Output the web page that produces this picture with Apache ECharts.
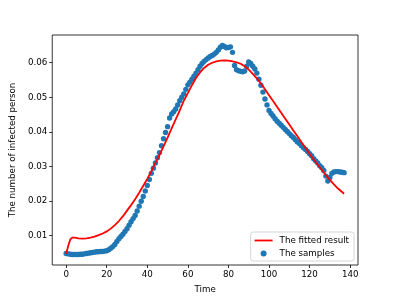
<!DOCTYPE html>
<html>
<head>
<meta charset="utf-8">
<script src="https://cdn.jsdelivr.net/npm/echarts@6/dist/echarts.min.js"></script>
<style>html,body{margin:0;padding:0;background:#fff;}#chart{width:399px;height:299px;}</style>
</head>
<body>
<div id="chart"></div>
<script>
// Samples: one value per day, day = index (0..137)
var sampleValues = [
0.0048,0.0047,0.0046,0.0045,0.0045,0.0045,0.0045,0.0046,0.0046,0.0047,
0.0048,0.0049,0.0050,0.0051,0.0052,0.0053,0.0053,0.0054,0.0054,0.0055,
0.0056,0.0059,0.0063,0.0068,0.0074,0.0083,0.0091,0.0097,0.0104,0.0112,
0.0120,0.0130,0.0140,0.0149,0.0158,0.0171,0.0185,0.0199,0.0213,0.0229,
0.0245,0.0262,0.0280,0.0295,0.0310,0.0325,0.0340,0.0360,0.0380,0.0398,
0.0415,0.0440,0.0452,0.0458,0.0466,0.0478,0.0490,0.0500,0.0510,0.0523,
0.0536,0.0544,0.0552,0.0561,0.0570,0.0580,0.0590,0.0598,0.0604,0.0609,
0.0614,0.0618,0.0621,0.0625,0.0630,0.0637,0.0645,0.0650,0.0647,0.0643,
0.0644,0.0646,0.0630,0.0592,0.0580,0.0577,0.0575,0.0574,0.0576,0.0590,
0.0602,0.0598,0.0590,0.0582,0.0570,0.0552,0.0535,0.0515,0.0495,0.0478,
0.0462,0.0453,0.0446,0.0438,0.0431,0.0425,0.0419,0.0413,0.0407,0.0401,
0.0395,0.0389,0.0384,0.0377,0.0371,0.0366,0.0360,0.0354,0.0349,0.0343,
0.0337,0.0331,0.0322,0.0316,0.0310,0.0302,0.0296,0.0288,0.0272,0.0258,
0.0268,0.0280,0.0284,0.0285,0.0285,0.0284,0.0283,0.0282
];
// Fitted curve
var fitTimes = [0,1,2,3,4,5,6,8,10,12,14,16,18,20,22,24,26,28,30,32,34,36,38,40,42,44,46,48,50,52,54,56,58,60,62,64,66,68,70,72,74,76,78,80,82,84,86,88,90,92,94,96,98,100,102,104,106,108,110,112,114,116,118,120,122,124,126,128,130,132,134,136,137];
var fitValues = [0.0047,0.0070,0.0088,0.0094,0.0094,0.0093,0.0092,0.0091,0.0092,0.0094,0.0097,0.0101,0.0106,0.0112,0.0120,0.0130,0.0142,0.0156,0.0172,0.0188,0.0205,0.0224,0.0244,0.0264,0.0286,0.0310,0.0333,0.0358,0.0383,0.0410,0.0436,0.0462,0.0490,0.0512,0.0535,0.0556,0.0572,0.0585,0.0594,0.0600,0.0604,0.0606,0.0607,0.0606,0.0604,0.0601,0.0597,0.0590,0.0580,0.0568,0.0555,0.0540,0.0523,0.0506,0.0489,0.0472,0.0455,0.0438,0.0421,0.0404,0.0387,0.0370,0.0353,0.0336,0.0320,0.0305,0.0290,0.0275,0.0261,0.0248,0.0236,0.0226,0.0221];
var xTicks = [0,20,40,60,80,100,120,140];
var yTicks = [0.01,0.02,0.03,0.04,0.05,0.06];
var seriesNames = ['The fitted result','The samples'];
var xTitle = 'Time';
var yTitle = 'The number of infected person';

var FONT = 'DejaVu Sans';
var chart = echarts.init(document.getElementById('chart'), null, {renderer:'canvas'});
chart.setOption({
  animation: false,
  backgroundColor: '#fff',
  textStyle: {fontFamily: FONT},
  grid: {left: 50, top: 35, right: 41, bottom: 33, show: true, borderColor: '#000', borderWidth: 0.8, backgroundColor: 'transparent'},
  xAxis: {
    type: 'value', min: -6.85, max: 143.85,
    name: xTitle, nameLocation: 'middle', nameGap: 20,
    nameTextStyle: {fontFamily: FONT, fontSize: 8.7, color: '#000'},
    axisLine: {show: false, onZero: false},
    axisTick: {show: true, length: 3, lineStyle: {color: '#000', width: 0.8}, customValues: xTicks},
    axisLabel: {fontFamily: FONT, fontSize: 8.7, color: '#000', margin: 5, customValues: xTicks, formatter: function(v){return String(v);}},
    splitLine: {show: false}
  },
  yAxis: {
    type: 'value', min: 0.001475, max: 0.068025,
    name: yTitle, nameLocation: 'middle', nameGap: 28, nameRotate: 90,
    nameTextStyle: {fontFamily: FONT, fontSize: 8.7, color: '#000'},
    axisLine: {show: false, onZero: false},
    axisTick: {show: true, length: 3, lineStyle: {color: '#000', width: 0.8}, customValues: yTicks},
    axisLabel: {fontFamily: FONT, fontSize: 8.7, color: '#000', margin: 5, customValues: yTicks, formatter: function(v){return v.toFixed(2);}},
    splitLine: {show: false}
  },
  legend: {
    orient: 'vertical', right: 45, bottom: 38,
    padding: [4, 5, 3, 4], itemGap: 4, itemWidth: 18, itemHeight: 6,
    borderColor: '#ccc', borderWidth: 0.8, borderRadius: 2.5,
    backgroundColor: 'rgba(255,255,255,0.8)',
    textStyle: {fontFamily: FONT, fontSize: 8.7, color: '#000', padding: [0,0,0,2]},
    data: [
      {name: seriesNames[0], icon: 'path://M0,0L20,0L20,2L0,2Z', itemStyle: {color: '#ff0000'}},
      {name: seriesNames[1], icon: 'circle'}
    ]
  },
  series: [
    {
      name: seriesNames[1], type: 'scatter', z: 2,
      symbol: 'circle', symbolSize: 5.4,
      itemStyle: {color: '#1f77b4', opacity: 1},
      data: sampleValues.map(function(v, i){return [i, v];})
    },
    {
      name: seriesNames[0], type: 'line', z: 3,
      symbol: 'none', smooth: false,
      lineStyle: {color: '#ff0000', width: 1.8},
      itemStyle: {color: '#ff0000'},
      data: fitTimes.map(function(t, i){return [t, fitValues[i]];})
    }
  ]
});
</script>
</body>
</html>
